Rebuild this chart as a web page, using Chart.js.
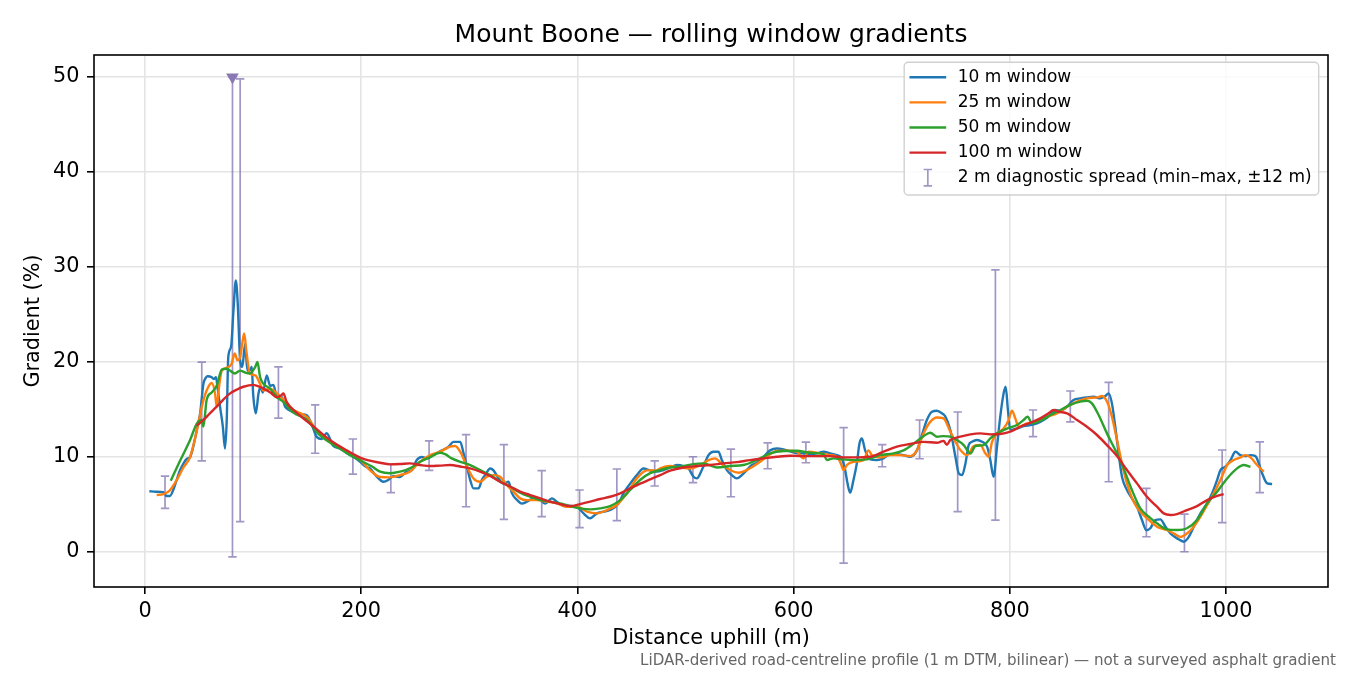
<!DOCTYPE html>
<html><head><meta charset="utf-8">
<script src="https://cdn.jsdelivr.net/npm/chart.js@4.4.1/dist/chart.umd.min.js"></script>
<style>html,body{margin:0;padding:0;background:#fff}canvas{display:block}</style>
</head><body>
<canvas id="c" width="1350" height="675" style="width:1350px;height:675px"></canvas>
<script>
// ---------- text ----------
const TITLE = 'Mount Boone — rolling window gradients';
const X_LABEL = 'Distance uphill (m)';
const Y_LABEL = 'Gradient (%)';
const FOOTNOTE = 'LiDAR-derived road-centreline profile (1 m DTM, bilinear) — not a surveyed asphalt gradient';
const SERIES_LABELS = ['10 m window', '25 m window', '50 m window', '100 m window'];
const ERR_LABEL = '2 m diagnostic spread (min–max, ±12 m)';

// ---------- ticks ----------
const X_TICKS = [0, 200, 400, 600, 800, 1000];
const Y_TICKS = [0, 10, 20, 30, 40, 50];

// ---------- 10 m window ----------
const w10_x = [4,10,17,20,23,26,29,32,35.5,38.5,41.7,44,46,48.5,51,52.5,54,56,57.7,61.7,63.5,65.7,67,69.4,72,74,75.6,77,79.6,81.8,84,85.8,88,90,92.6,94.7,97,98.8,100,102.5,105,107,109,112.6,115.7,118.8,122,126.5,129.6,134,140,145,149.7,154,159,163.6,168,174,180.5,186.7,193,199,204,208.2,214.4,220.6,225,229.8,236,242,246.8,251.4,256,260.7,265.3,270,274.6,280.8,285.4,291.6,294.7,297.8,300.8,303.9,308.5,311.6,314.7,319.3,322.4,327,331.7,336.3,339.4,344,348.7,353.3,359.4,365.6,370.2,376.4,381,387.2,393.3,399.5,405.7,411.8,418,424.2,430.3,438,442.7,448.8,455,461.1,467.3,473.5,479.7,485.8,492,498.2,502.8,507.4,510.5,515.1,521.3,525.9,530.5,533.6,538.3,542.9,547.5,552.1,556.7,561.4,566,572.2,578.3,584.5,590.7,596.8,603,609.2,615.3,621.5,627.7,633.8,640,644.6,647.7,649.9,652.3,655.4,658.5,661,663.2,666.2,670.9,677,683.2,689.4,695.6,701.7,707.9,714.1,718.7,723.3,728,732.6,737.2,740.4,745,749.7,752.8,755.9,759,762,765,769.7,774.3,779,782,785,788.2,791.2,794.3,796.2,798.3,800.5,806.6,812.8,819,825.2,831.3,837.5,842.1,846.8,853,859,865.2,871.4,877.6,883.7,888.3,891.4,894.5,897.6,900.7,903.8,908.4,913,917.7,922.3,926.4,930,934.7,939.3,944,948.6,954.8,961,965.6,970.2,976.4,982.6,987.2,991.8,994.9,999.5,1004.2,1008.8,1013.4,1018,1022.7,1027.3,1030.4,1033.5,1038.1,1042.7];
const w10_y = [6.4,6.35,6.3,5.9,5.9,6.5,7.5,8.5,9.3,9.8,10.0,10.8,11.8,13.2,14.6,16.2,17.7,18.3,18.5,18.4,18.2,18.4,17.4,15.3,13.2,10.9,13.9,20.5,21.6,25.4,28.6,26.1,20.2,19.5,21.9,19.1,19.1,19.5,16.7,14.6,16.7,17.4,16.8,18.6,17.5,17.6,16.3,16.3,15.3,14.9,14.6,14.5,14.4,13.5,12.1,11.9,12.5,11.2,10.9,10.4,10.0,9.5,9.0,8.8,7.93,7.4,7.58,8.0,7.9,8.46,8.6,9.68,10.0,9.86,10.1,10.4,10.7,11.1,11.6,11.6,10.4,9.0,7.6,6.7,6.7,7.58,8.1,8.8,8.6,7.75,7.2,7.4,6.2,5.5,5.1,5.3,5.65,5.5,5.1,5.65,5.3,4.84,4.84,4.77,4.07,3.55,4.07,4.25,4.42,5.1,6.2,7.2,8.1,8.8,8.6,8.46,8.63,8.9,9.16,9.05,8.8,7.93,7.75,8.63,10.2,10.56,10.56,9.68,8.63,8.1,7.75,8.1,8.63,9.16,9.4,10.03,10.7,10.9,10.8,10.6,10.4,10.38,10.3,10.4,10.56,10.38,10.2,9.86,8.63,7.23,6.25,7.58,9.33,11.44,11.96,10.7,9.75,9.68,9.86,10.3,10.3,10.2,10.03,10.7,12.3,13.9,14.77,14.87,14.6,14.25,12.84,10.03,8.28,8.1,9.33,11.26,11.6,11.79,11.6,11.09,9.68,7.93,11.09,14.25,16.7,17.4,14.95,12.84,13.0,13.26,13.37,13.54,13.9,14.42,14.95,14.88,15.3,16.0,16.18,16.28,16.35,16.18,16.42,16.7,15.65,13.19,10.38,7.93,6.53,5.65,4.77,3.37,2.3,2.5,3.37,3.44,2.67,1.96,1.44,1.09,1.6,2.67,4.07,5.12,6.18,7.58,8.63,8.98,9.68,10.56,10.2,10.1,10.2,10.1,9.33,8.28,7.23,7.16];

// ---------- 25 m window ----------
const w25_x = [10.8,17,23,29,35.5,41.7,48,52.5,57,61.7,64.8,66.3,68.8,71,75.6,80,83,85.5,88,89.5,91.7,94,97,102,106.5,109.6,115.7,122,128,134,140,150,160,170,180,190,200,208.2,217.5,226.7,236,245,254.5,263.8,273,282.3,286.9,291.6,297.8,303.9,310,316.2,322.4,328.5,334.7,340.9,347,353.3,362.5,371.7,381,390.2,399.5,408.8,418,427.3,436.5,445.8,455,464.3,473.5,476.6,485.8,495,504.4,513.6,521.3,527.4,533.6,541.3,549,556.7,566,575.2,584.5,593.7,603,609.2,613.8,624.6,633.8,640,643.7,646.2,649.3,655.4,664.7,669.3,672.4,680.1,689.4,698.6,707.9,714.1,720.2,726.4,732.6,738.7,745,749.7,754.3,760.5,766.7,772.8,777.5,780.5,783.6,788.2,794.3,799,802,805.1,808.2,815.9,825.2,834.4,843.7,853,862.2,871.4,880.7,885.3,889.9,894.5,899.2,903.8,908.4,914.6,920.8,926.9,936.2,945.4,951.6,957.8,963.9,970.2,976.4,982.6,988.7,994.9,1001.1,1007.2,1013.4,1018,1022.7,1028.8,1035];
const w25_y = [6.0,6.1,6.5,7.5,8.9,10.0,12.8,15.3,17.0,17.8,16.7,15.3,17.7,19.1,19.4,19.8,20.9,20.2,20.5,21.6,23.0,20.9,18.8,18.6,17.7,17.0,17.2,16.7,16.0,15.2,14.8,14.2,12.6,11.8,11.0,10.3,9.6,8.6,7.9,7.86,8.1,8.46,9.5,10.2,10.56,11.1,11.16,10.56,9.0,7.75,7.4,7.93,8.1,7.93,7.05,6.35,5.65,5.47,5.47,5.3,5.12,4.77,4.77,4.25,4.07,4.42,4.95,6.2,7.75,8.6,8.6,8.8,9.05,8.9,8.8,9.16,9.68,9.86,9.26,8.63,8.35,8.63,9.26,10.03,10.63,10.66,10.56,9.86,10.56,10.38,10.2,10.03,9.33,8.63,9.16,9.5,9.68,10.7,10.2,9.96,10.2,10.2,10.1,10.7,12.49,13.7,14.17,14.07,12.67,11.6,10.74,10.2,11.16,11.26,10.38,10.03,11.6,12.49,13.0,13.9,14.88,14.07,13.19,13.54,13.72,14.25,14.6,15.3,15.84,16.18,16.28,16.42,15.84,14.25,11.79,9.33,7.23,5.3,4.25,3.55,2.67,2.32,1.96,1.6,1.96,2.67,3.72,4.95,6.18,7.58,9.16,9.68,9.96,10.2,9.96,9.16,8.46];

// ---------- 50 m window ----------
const w50_x = [23.8,32.4,41.7,47.8,52.5,54,57,61.7,66.3,71,75.6,78.7,83,88,92.6,97,102,104,106.5,109.6,115.7,122,128,137,150,160,170,180,190,200,210,217.5,226.7,236,245,254.5,263.8,273,277.6,283.8,291.6,300.8,310,319.3,328.5,337.8,347,356.3,365.6,374.8,384,393.3,402.6,411.8,421,430.3,439.6,448.8,458,467.3,476.6,485.8,495,507.4,516.7,529,541.3,553.6,566,578.3,590.7,603,615.3,627.7,630.8,636.9,646.2,655.4,667.8,680.1,692.5,701.7,711,720.2,726.4,732.6,738.7,745,751.2,757.4,763.6,768.2,775.9,782,788.2,797.4,806.6,812.8,816.5,820.5,828.2,837.5,846.8,856,865.2,871.4,876,882.2,889.9,897.6,905.3,913,920.8,928.5,936.2,945.4,954.7,963.9,973.2,982.6,991.8,1001.1,1010.3,1016.4,1022.7];
const w50_y = [7.5,9.6,11.8,13.5,13.9,13.2,16.0,16.8,17.5,19.2,19.3,19.1,18.8,19.1,18.9,18.8,19.5,20.0,18.4,17.7,17.2,16.3,15.8,14.7,13.9,12.5,11.6,10.9,10.2,9.6,9.0,8.46,8.3,8.46,8.8,9.5,10.0,10.45,10.3,9.86,9.5,9.16,8.63,8.1,7.4,6.9,6.25,5.82,5.47,5.3,5.12,4.84,4.6,4.49,4.6,4.84,5.47,6.53,7.58,8.3,8.63,8.9,8.98,9.26,9.33,8.9,9.05,9.16,9.68,10.38,10.63,10.66,10.45,10.3,9.68,9.86,9.75,9.68,9.75,10.2,10.38,10.7,11.4,12.2,12.56,12.14,12.2,12.14,11.79,11.26,10.38,11.16,11.26,11.96,12.49,13.0,13.37,13.9,14.25,13.54,13.83,14.42,14.95,15.5,15.84,15.93,15.65,14.42,12.49,10.74,8.81,6.53,4.6,3.72,3.02,2.39,2.32,2.5,3.37,5.12,6.35,7.75,8.81,9.16,8.98];

// ---------- 100 m window ----------
const w100_x = [47.8,54,60,66.3,72,78.7,85,91,100,109.6,116,122,126,128,131,140,156,171,186.7,202,217.6,226.7,236,245,254.5,263.8,273,282.3,291.6,300.8,310,319.3,328.5,337.8,347,356.3,365.6,374.8,384,393.3,402.6,411.8,421,430.3,439.6,448.8,458,467.3,476.6,485.8,498.2,510.5,522.8,535.2,547.5,559.8,572.2,584.5,596.8,609.2,621.5,633.8,646.2,658.5,670.9,683.2,695.6,707.9,720.2,732.6,738.7,741.8,745,754.3,763.6,772.8,782,791.2,800.5,809.7,819,828.2,835.9,840.6,845.2,853,862.2,871.4,880.7,889.9,899.2,908.4,917.7,926.9,936.2,942.4,948.6,954.7,963.9,973.2,982.6,991.8,997.9];
const w100_y = [13.3,13.9,14.6,15.3,16.0,16.7,17.1,17.4,17.6,17.2,16.8,16.3,16.5,16.7,15.8,14.7,13.2,11.8,10.7,9.8,9.4,9.23,9.26,9.33,9.16,9.05,9.1,9.16,9.0,8.8,8.46,8.0,7.4,6.9,6.35,6.0,5.65,5.3,5.05,4.84,5.05,5.3,5.58,5.82,6.18,6.7,7.2,7.65,8.1,8.56,8.9,9.05,9.16,9.33,9.47,9.68,9.86,10.03,10.14,10.1,10.1,10.1,9.96,9.96,10.03,10.56,11.1,11.37,11.6,11.5,11.7,11.3,11.79,12.14,12.39,12.49,12.39,12.42,12.67,13.19,13.61,14.07,14.6,14.95,14.77,14.6,13.9,13.19,12.32,11.26,10.1,8.63,7.23,5.82,4.77,4.07,3.9,4.0,4.42,4.84,5.47,5.9,6.1];

// ---------- 2 m diagnostic spread (min–max) ----------
const err_x  = [18.5,52.5,80.9,88,123.4,157.4,192.3,227.4,262.8,297,332,367,402,436.5,471.5,506.9,542,576,611.4,646.3,682,716.6,751.8,786.7,821.5,856,891.5,926.4,961.6,996.5,1031.3];
const err_lo = [4.6,9.6,-0.5,3.2,14.1,10.4,8.2,6.25,8.6,4.77,3.44,3.72,2.56,3.3,6.95,7.3,5.82,8.77,9.4,-1.16,8.98,9.82,4.25,3.37,12.14,13.7,7.4,1.61,0.03,3.09,6.25];
const err_hi = [8.0,20.0,50.0,49.8,19.5,15.5,11.9,9.26,11.7,12.35,11.3,8.56,6.53,8.74,9.6,10.03,10.84,11.5,11.58,13.1,11.3,13.9,14.74,29.7,14.95,16.95,17.86,6.7,4.0,10.74,11.6];
// spread clipped at the top of the view
const clip_x = [80.9];
const clip_y = [50];

// ---------- styles ----------
const COLORS = ['#1f77b4', '#ff7f0e', '#2ca02c', '#d62728'];
const ERR_COLOR = 'rgba(117,100,168,0.68)';
const CLIP_COLOR = '#8978b4';
const FONT = '"DejaVu Sans", sans-serif';
const LINE_W = 2.4;

function pts(xs, ys) { return xs.map((x, i) => ({x: x, y: ys[i]})); }

Chart.defaults.font.family = FONT;
Chart.defaults.color = '#000';

const seriesX = [w10_x, w25_x, w50_x, w100_x];
const seriesY = [w10_y, w25_y, w50_y, w100_y];

const datasets = SERIES_LABELS.map((lab, i) => ({
  type: 'line',
  label: lab,
  data: pts(seriesX[i], seriesY[i]),
  borderColor: COLORS[i],
  backgroundColor: COLORS[i],
  borderWidth: LINE_W,
  pointRadius: 0,
  fill: false,
  cubicInterpolationMode: 'monotone',
  order: 4 - i
}));
datasets.push({
  type: 'scatter',
  label: 'clip',
  data: pts(clip_x, clip_y),
  pointStyle: 'triangle',
  rotation: 180,
  pointRadius: 7.3,
  pointBackgroundColor: CLIP_COLOR,
  pointBorderWidth: 0,
  borderWidth: 0,
  order: 0
});

const errorBarPlugin = {
  id: 'errorBars',
  beforeDatasetsDraw(chart) {
    const {ctx, chartArea, scales: {x, y}} = chart;
    ctx.save();
    ctx.beginPath();
    ctx.rect(chartArea.left, chartArea.top, chartArea.right - chartArea.left, chartArea.bottom - chartArea.top);
    ctx.clip();
    ctx.strokeStyle = ERR_COLOR;
    ctx.lineWidth = 1.7;
    const cap = 4.2;
    ctx.beginPath();
    for (let i = 0; i < err_x.length; i++) {
      const px = x.getPixelForValue(err_x[i]);
      const pl = y.getPixelForValue(err_lo[i]);
      const ph = y.getPixelForValue(err_hi[i]);
      ctx.moveTo(px, pl); ctx.lineTo(px, ph);
      ctx.moveTo(px - cap, pl); ctx.lineTo(px + cap, pl);
      ctx.moveTo(px - cap, ph); ctx.lineTo(px + cap, ph);
    }
    ctx.stroke();
    ctx.restore();
  }
};

const framePlugin = {
  id: 'frameLegendNote',
  afterDraw(chart) {
    const {ctx, chartArea: ca} = chart;
    ctx.save();
    // axes frame
    ctx.strokeStyle = '#000';
    ctx.lineWidth = 1.6;
    ctx.strokeRect(ca.left, ca.top, ca.right - ca.left, ca.bottom - ca.top);

    // legend
    ctx.font = '17px ' + FONT;
    const labels = SERIES_LABELS.concat([ERR_LABEL]);
    let maxW = 0;
    labels.forEach(l => { maxW = Math.max(maxW, ctx.measureText(l).width); });
    const padL = 5.3, handleW = 36.7, gap = 11.6, padR = 7;
    const boxW = padL + handleW + gap + maxW + padR;
    const boxR = ca.right - 9.3, boxT = ca.top + 7.3, boxH = 132.7;
    const boxL = boxR - boxW;
    const r = 4;
    ctx.beginPath();
    ctx.moveTo(boxL + r, boxT);
    ctx.lineTo(boxR - r, boxT); ctx.arcTo(boxR, boxT, boxR, boxT + r, r);
    ctx.lineTo(boxR, boxT + boxH - r); ctx.arcTo(boxR, boxT + boxH, boxR - r, boxT + boxH, r);
    ctx.lineTo(boxL + r, boxT + boxH); ctx.arcTo(boxL, boxT + boxH, boxL, boxT + boxH - r, r);
    ctx.lineTo(boxL, boxT + r); ctx.arcTo(boxL, boxT, boxL + r, boxT, r);
    ctx.closePath();
    ctx.fillStyle = 'rgba(255,255,255,0.8)';
    ctx.fill();
    ctx.strokeStyle = 'rgba(204,204,204,0.9)';
    ctx.lineWidth = 1.4;
    ctx.stroke();

    const rowY0 = boxT + 15, rowDy = 25.1;
    const hx0 = boxL + padL, hx1 = hx0 + handleW, tx = hx1 + gap;
    ctx.textBaseline = 'middle';
    ctx.textAlign = 'left';
    labels.forEach((l, i) => {
      const yy = rowY0 + i * rowDy;
      if (i < 4) {
        ctx.strokeStyle = COLORS[i];
        ctx.lineWidth = LINE_W;
        ctx.beginPath(); ctx.moveTo(hx0, yy); ctx.lineTo(hx1, yy); ctx.stroke();
      } else {
        const cx = (hx0 + hx1) / 2;
        ctx.strokeStyle = ERR_COLOR;
        ctx.lineWidth = 1.7;
        ctx.beginPath();
        ctx.moveTo(cx, yy - 8.2); ctx.lineTo(cx, yy + 8.2);
        ctx.moveTo(cx - 4.2, yy - 8.2); ctx.lineTo(cx + 4.2, yy - 8.2);
        ctx.moveTo(cx - 4.2, yy + 8.2); ctx.lineTo(cx + 4.2, yy + 8.2);
        ctx.stroke();
      }
      ctx.fillStyle = '#000';
      ctx.fillText(l, tx, yy);
    });

    // footnote
    ctx.font = '15.1px ' + FONT;
    ctx.fillStyle = '#666';
    ctx.textAlign = 'right';
    ctx.textBaseline = 'alphabetic';
    ctx.fillText(FOOTNOTE, chart.width - 14, chart.height - 10);
    ctx.restore();
  }
};

new Chart(document.getElementById('c'), {
  data: {datasets: datasets},
  options: {
    responsive: false,
    animation: false,
    devicePixelRatio: 1,
    events: [],
    layout: {padding: {left: 0, right: 22, top: 0, bottom: 0}},
    plugins: {
      legend: {display: false},
      tooltip: {enabled: false},
      title: {
        display: true, text: TITLE, fullSize: false,
        color: '#000',
        font: {size: 25, weight: 'normal', family: FONT},
        padding: {top: 20, bottom: 5}
      }
    },
    scales: {
      x: {
        type: 'linear', position: 'bottom',
        min: -47.2, max: 1094.4,
        afterBuildTicks: s => { s.ticks = X_TICKS.map(v => ({value: v})); },
        afterFit: s => { s.height = 88; },
        ticks: {color: '#000', font: {size: 20.8}, padding: 5, maxRotation: 0, autoSkip: false,
                callback: v => String(v)},
        grid: {color: '#e4e4e4', lineWidth: 1.6, drawTicks: true, tickLength: 7,
               tickColor: '#000', tickWidth: 1.6},
        border: {display: false},
        title: {display: true, text: X_LABEL, color: '#000', font: {size: 20.8},
                padding: {top: 0, bottom: 23.5}}
      },
      y: {
        type: 'linear', position: 'left',
        min: -3.68, max: 52.32,
        afterBuildTicks: s => { s.ticks = Y_TICKS.map(v => ({value: v})); },
        afterFit: s => { s.width = 94; },
        ticks: {color: '#000', font: {size: 20.8}, padding: 7.5, autoSkip: false,
                callback: v => String(v)},
        grid: {color: '#e4e4e4', lineWidth: 1.6, drawTicks: true, tickLength: 7,
               tickColor: '#000', tickWidth: 1.6},
        border: {display: false},
        title: {display: true, text: Y_LABEL, color: '#000', font: {size: 20.8},
                padding: {top: 21.5, bottom: 0}}
      }
    }
  },
  plugins: [errorBarPlugin, framePlugin]
});
</script>
</body></html>
